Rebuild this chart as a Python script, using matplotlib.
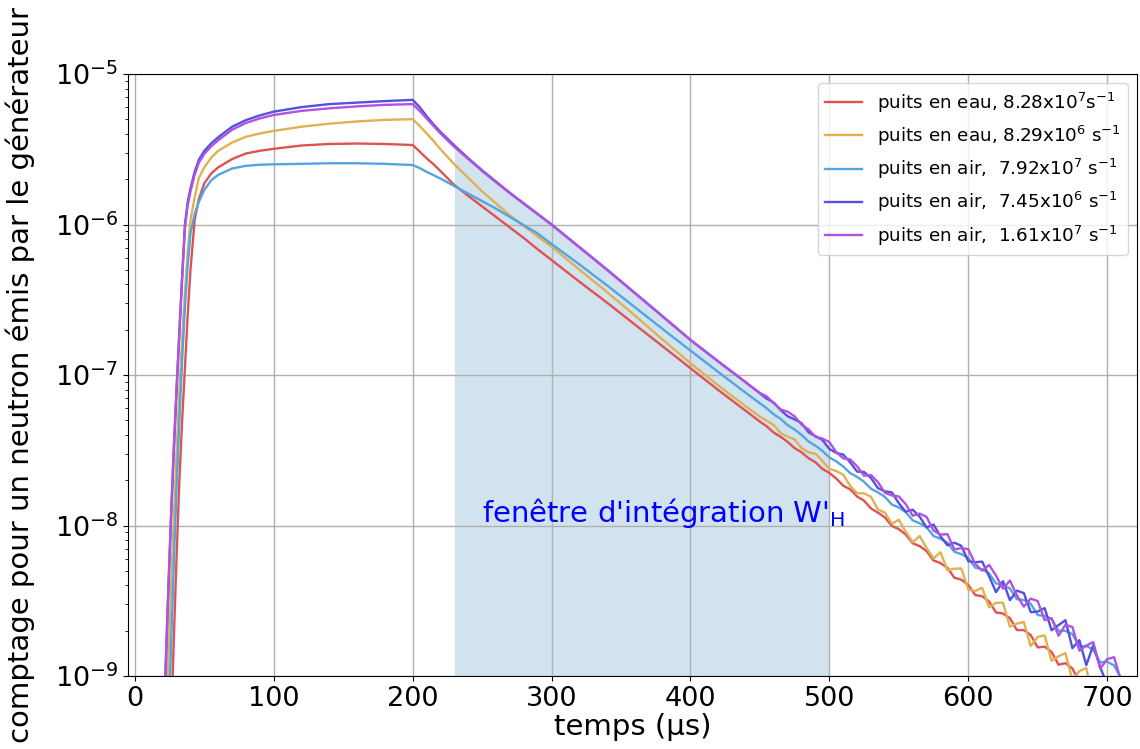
import matplotlib
matplotlib.use("Agg")
import matplotlib.pyplot as plt
import numpy as np

# temps en microsecondes (montee, decroissance, queue bruitee)
temps = [20, 22, 24, 26, 28, 30, 32, 34, 36, 38, 40, 43, 46, 50, 55, 60, 70, 80, 90, 100,
         120, 140, 160, 180, 200,
         205, 210, 215, 220, 230, 240, 250, 260, 270, 280, 290, 300, 320, 340, 360, 380,
         400, 420, 440, 450,
         455, 460, 465, 470, 475, 480, 485, 490, 495, 500, 505, 510, 515, 520, 525, 530,
         535, 540, 545, 550, 555, 560, 565, 570, 575, 580, 585, 590, 595, 600, 605, 610,
         615, 620, 625, 630, 635, 640, 645, 650, 655, 660, 665, 670, 675, 680, 685, 690,
         695, 700, 705, 710, 715, 720]

# log10 du comptage
log_eau_828e7 = [-11, -11, -10.2, -9.35, -8.75, -8.2, -7.7, -7.3, -6.95, -6.6, -6.3, -5.97, -5.83,
                 -5.725, -5.66, -5.62, -5.565, -5.528, -5.51, -5.497, -5.475, -5.465, -5.462, -5.465, -5.472,
                 -5.515, -5.56, -5.60, -5.645, -5.738, -5.81, -5.88, -5.95, -6.02, -6.09, -6.165, -6.236,
                 -6.38, -6.52, -6.665, -6.81, -6.955, -7.10, -7.24, -7.31,
                 -7.342, -7.383, -7.411, -7.445, -7.486, -7.514, -7.553, -7.580, -7.624, -7.651, -7.688,
                 -7.736, -7.760, -7.808, -7.835, -7.887, -7.915, -7.946, -8.003, -8.024, -8.060, -8.118,
                 -8.137, -8.170, -8.232, -8.250, -8.281, -8.347, -8.360, -8.395, -8.462, -8.470, -8.505,
                 -8.578, -8.585, -8.615, -8.695, -8.695, -8.728, -8.810, -8.805, -8.840, -8.925, -8.915,
                 -8.950, -9.040, -9.025, -9.06, -9.15, -9.14, -9.20, -9.26, -9.24, -9.35]

log_eau_829e6 = [-11, -9.4, -8.9, -8.4, -7.95, -7.5, -7.1, -6.75, -6.45, -6.18, -5.97, -5.82, -5.69,
                 -5.62, -5.555, -5.51, -5.455, -5.417, -5.395, -5.378, -5.35, -5.33, -5.315, -5.305, -5.30,
                 -5.345, -5.395, -5.445, -5.50, -5.60, -5.69, -5.78, -5.86, -5.94, -6.01, -6.08, -6.147,
                 -6.30, -6.45, -6.605, -6.765, -6.922, -7.07, -7.21, -7.277,
                 -7.305, -7.333, -7.387, -7.410, -7.428, -7.486, -7.514, -7.523, -7.571, -7.624, -7.638,
                 -7.663, -7.737, -7.786, -7.786, -7.810, -7.894, -7.914, -7.988, -7.962, -8.041, -8.111,
                 -8.070, -8.149, -8.219, -8.178, -8.297, -8.287, -8.286, -8.425, -8.435, -8.414, -8.544,
                 -8.513, -8.513, -8.672, -8.652, -8.641, -8.801, -8.740, -8.730, -8.899, -8.869, -8.848,
                 -9.028, -8.967, -8.947, -9.166, -9.096, -9.085, -9.325, -9.214, -9.454, -9.543]

log_air_792e7 = [-11, -10.0, -9.35, -8.8, -8.25, -7.75, -7.3, -6.9, -6.55, -6.27, -6.06, -5.93, -5.85,
                 -5.77, -5.705, -5.67, -5.628, -5.61, -5.603, -5.60, -5.597, -5.593, -5.593, -5.597, -5.605,
                 -5.625, -5.65, -5.672, -5.695, -5.745, -5.795, -5.845, -5.895, -5.95, -6.005, -6.06, -6.13,
                 -6.265, -6.405, -6.55, -6.695, -6.838, -6.98, -7.12, -7.188,
                 -7.222, -7.262, -7.292, -7.334, -7.362, -7.398, -7.442, -7.470, -7.504, -7.548, -7.574,
                 -7.608, -7.652, -7.677, -7.710, -7.756, -7.780, -7.810, -7.861, -7.880, -7.912, -7.966,
                 -7.985, -8.012, -8.070, -8.088, -8.114, -8.175, -8.190, -8.215, -8.280, -8.292, -8.318,
                 -8.385, -8.395, -8.418, -8.490, -8.495, -8.520, -8.595, -8.600, -8.620, -8.700, -8.700,
                 -8.722, -8.805, -8.800, -8.825, -8.910, -8.905, -8.930, -9.015, -9.010, -9.06]

log_air_745e6 = [-11, -9.0, -8.45, -7.95, -7.5, -7.1, -6.72, -6.35, -6.0, -5.85, -5.76, -5.65, -5.57,
                 -5.51, -5.46, -5.42, -5.35, -5.306, -5.275, -5.25, -5.22, -5.20, -5.19, -5.18, -5.172,
                 -5.22, -5.28, -5.335, -5.385, -5.475, -5.56, -5.64, -5.715, -5.79, -5.86, -5.93, -6.0,
                 -6.15, -6.30, -6.455, -6.61, -6.767, -6.91, -7.05, -7.122,
                 -7.158, -7.183, -7.234, -7.274, -7.295, -7.320, -7.381, -7.406, -7.432, -7.491, -7.518,
                 -7.529, -7.581, -7.642, -7.644, -7.685, -7.752, -7.773, -7.780, -7.852, -7.908, -7.895,
                 -7.941, -8.013, -7.994, -8.071, -8.132, -8.114, -8.135, -8.237, -8.244, -8.240, -8.337,
                 -8.443, -8.370, -8.496, -8.433, -8.449, -8.576, -8.572, -8.549, -8.696, -8.662, -8.629,
                 -8.815, -8.762, -8.928, -8.795, -8.941, -9.058, -9.025, -9.21, -9.35, -9.48]

log_air_161e7 = [-11, -8.95, -8.42, -7.93, -7.48, -7.08, -6.71, -6.35, -6.02, -5.87, -5.78, -5.67, -5.59,
                 -5.53, -5.48, -5.44, -5.37, -5.325, -5.295, -5.272, -5.245, -5.228, -5.215, -5.205, -5.20,
                 -5.245, -5.295, -5.345, -5.395, -5.485, -5.565, -5.645, -5.72, -5.792, -5.862, -5.932, -6.002,
                 -6.152, -6.302, -6.457, -6.612, -6.767, -6.91, -7.05, -7.12,
                 -7.143, -7.188, -7.229, -7.244, -7.275, -7.330, -7.361, -7.411, -7.422, -7.446, -7.513,
                 -7.554, -7.561, -7.607, -7.669, -7.665, -7.712, -7.783, -7.800, -7.807, -7.858, -7.935,
                 -7.921, -7.943, -8.034, -8.061, -8.057, -8.159, -8.150, -8.157, -8.254, -8.300, -8.262,
                 -8.333, -8.420, -8.366, -8.463, -8.539, -8.486, -8.502, -8.629, -8.616, -8.732, -8.659,
                 -8.675, -8.832, -8.798, -8.775, -8.951, -8.888, -8.875, -9.031, -9.008, -9.274]

labels = [
    "puits en eau, 8.28x10$^{7}$s$^{-1}$",
    "puits en eau, 8.29x10$^{6}$ s$^{-1}$",
    "puits en air,  7.92x10$^{7}$ s$^{-1}$",
    "puits en air,  7.45x10$^{6}$ s$^{-1}$",
    "puits en air,  1.61x10$^{7}$ s$^{-1}$",
]
colors = ["#e05252", "#e0b152", "#52a5e0", "#5252e0", "#b152e0"]

fenetre = (230, 500)

t = np.array(temps)
series = [log_eau_828e7, log_eau_829e6, log_air_792e7, log_air_745e6, log_air_161e7]
for s in series:
    assert len(s) == len(t), len(s)

fig = plt.figure(figsize=(11.4, 7.49), dpi=100)
ax = fig.add_axes([128 / 1140, 1 - 676 / 749, 1009 / 1140, 602 / 749])

# fenetre d'integration : aire sous la courbe la plus haute
haut = 10 ** np.array(log_air_745e6)
ax.fill_between(t, 1e-10, haut, where=(t >= fenetre[0]) & (t <= fenetre[1]),
                color="C0", alpha=0.2, linewidth=0)

for s, lab, c in zip(series, labels, colors):
    ax.plot(t, 10 ** np.array(s), color=c, lw=1.7, label=lab)

ax.text(250, 1.05e-8, "fenêtre d'intégration W'$_{\\rm H}$", color="blue", fontsize=21)

ax.set_yscale("log")
ax.set_ylim(1e-9, 1e-5)
ax.set_xlim(-5, 721.5)
ax.set_xticks([0, 100, 200, 300, 400, 500, 600, 700])
ax.tick_params(axis="both", which="major", labelsize=19.5)
ax.grid(True, which="major", color="#b0b0b0", lw=1)

ax.set_xlabel("temps (µs)", fontsize=21, labelpad=1)
ax.set_ylabel("comptage pour un neutron émis par le générateur", fontsize=21)
ax.yaxis.set_label_coords(-0.092, 0.50)

ax.legend(loc="upper right", fontsize=13.2)

fig.savefig("out.png", dpi=100)
